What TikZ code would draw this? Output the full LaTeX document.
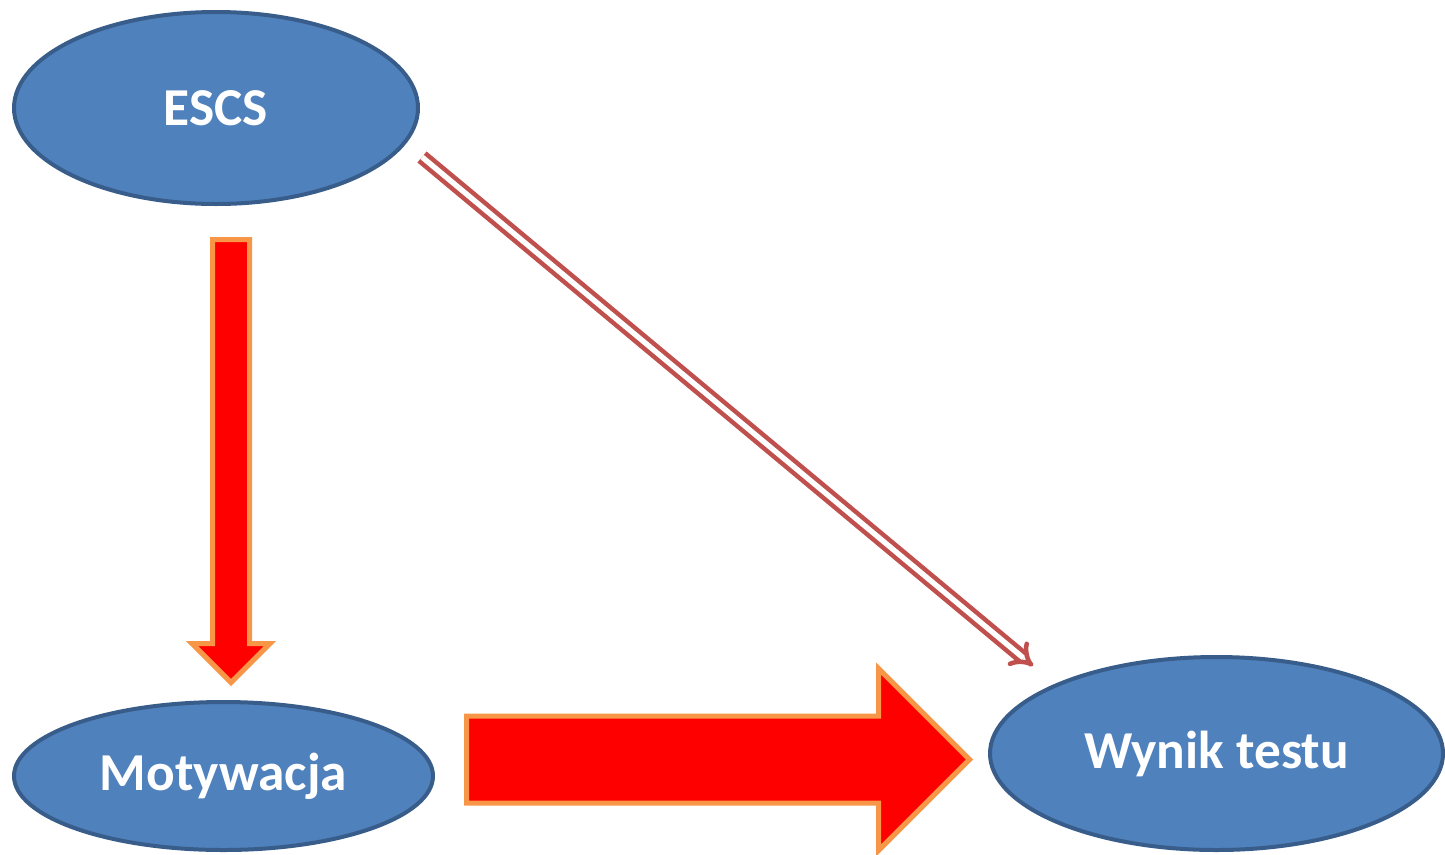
\documentclass[tikz,border=0pt]{standalone}
\usepackage{fontspec}
\setmainfont{Carlito}
\usetikzlibrary{shapes.geometric, shapes.arrows, arrows.meta, positioning}
\definecolor{elfill}{HTML}{4F81BD}
\definecolor{eldraw}{HTML}{385D8A}
\definecolor{arrfill}{HTML}{FF0000}
\definecolor{arrdraw}{HTML}{F79646}
\definecolor{linkred}{HTML}{C0504D}
\tikzset{
    varnode/.style={draw=eldraw, fill=elfill, ellipse, line width=3pt, inner sep=0pt, outer sep=0pt, text=white, font=\fontsize{40}{48}\selectfont\bfseries},
    bigarrow/.style={draw=arrdraw, fill=arrfill, single arrow, single arrow tip angle=90, line width=3.75pt, inner xsep=0pt, outer sep=0pt},
    link/.style={draw=linkred, double=white, line width=3.4pt, double distance=4pt, -{Implies[scale=1.6]}}
}
\begin{document}
\begin{tikzpicture}[x=0.75pt, y=-0.75pt]
        \useasboundingbox (0,0) rectangle (1445,854);

        % Zmienne
        \node (escs) [varnode, minimum width=303pt, minimum height=144pt] at (216,108) {ESCS};
        \node (motyw) [varnode, minimum width=314.25pt, minimum height=111pt] at (223.5,776) {Motywacja};
        \node (wynik) [varnode, minimum width=339.75pt, minimum height=144.75pt] at (1216.5,753.5) {Wynik testu};

        % Efekty posrednie
        \coordinate (downtail) at (231,239.5);
        \coordinate (righttail) at (466.5,759.5);
        \node (down) [bigarrow, rotate=-90, anchor=tail, minimum height=332.25pt, inner ysep=12pt, single arrow head extend=15.375pt] at (downtail) {};
        \node (right) [bigarrow, anchor=tail, minimum height=377.25pt, inner ysep=30.75pt, single arrow head extend=35.625pt] at (righttail) {};

        % Efekt bezposredni
        \coordinate (linkstart) at (422,157);
        \coordinate (linkend) at (1033,666);
        \draw [link] (linkstart) -- (linkend);

    \end{tikzpicture}
\end{document}
